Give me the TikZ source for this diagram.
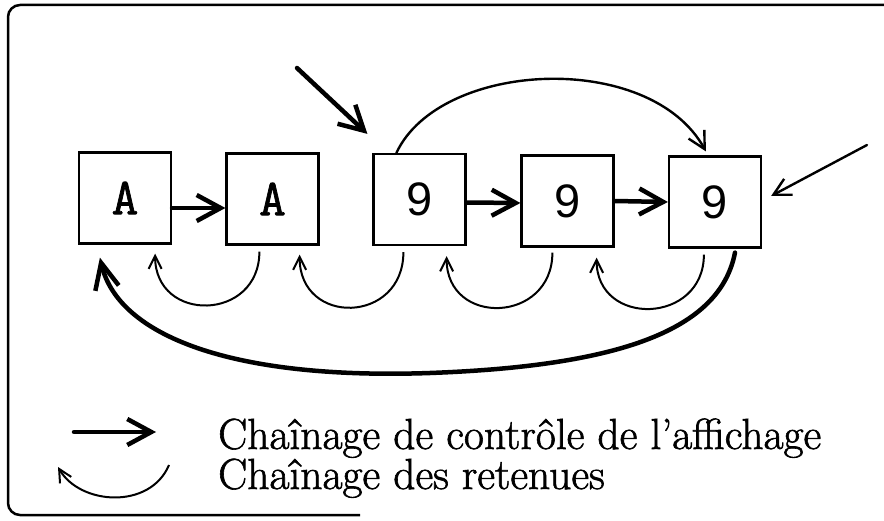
\documentclass[tikz,border=0pt]{standalone}
\usepackage{fontspec}
\setmainfont{Latin Modern Roman}[FakeBold=1.4]
\setmonofont{Latin Modern Mono}[FakeBold=1.4]
\newfontfamily\ninefont{Liberation Sans}
\usetikzlibrary{arrows.meta}
\begin{document}
\begin{tikzpicture}[x=1pt,y=-1pt,
  cell/.style={draw, line width=2.2pt, minimum width=92pt, minimum height=91pt, inner sep=0pt},
  ttlab/.style={font=\fontsize{52}{52}\selectfont\ttfamily},
  sflab/.style={font=\fontsize{47}{47}\selectfont\ninefont},
  ctrl/.style={line width=4.5pt, line cap=round, -{Straight Barb[length=24pt,width=26pt,line width=4.5pt]}},
  carry/.style={line width=2pt, -{Straight Barb[length=13pt,width=13pt,line width=2pt]}},
  thinarr/.style={line width=2.4pt, line cap=round, -{Straight Barb[length=17pt,width=18pt,line width=2.4pt]}},
  legtext/.style={font=\fontsize{43.5}{44}\selectfont, anchor=base west, inner sep=0pt},
  frame/.style={line width=2.5pt, rounded corners=12pt}]
\useasboundingbox (0,0) rectangle (884,521);
\clip (0,0) rectangle (884,521);
% frame
\draw[frame] (900,5) -- (8,5) -- (8,515) -- (360,515);
% cells
\node[cell, ttlab] (b1) at (125,198) {A};
\node[cell, ttlab] (b2) at (272.5,199) {A};
\node[cell, sflab] (b3) at (419.5,199.5) {9};
\node[cell, sflab] (b4) at (567.5,201) {9};
\node[cell, sflab] (b5) at (715,202) {9};
% control chain
\draw[ctrl] ([yshift=-10pt]b1.east) -- ([yshift=-9pt]b2.west);
\draw[ctrl] ([yshift=-3pt]b3.east) -- ([yshift=-2pt]b4.west);
\draw[ctrl] ([yshift=0pt]b4.east) -- ([yshift=0pt]b5.west);
% entry arrows
\coordinate (s1) at (297,68);
\draw[ctrl] (s1) -- ([xshift=-5pt,yshift=19pt]b3.north west);
\coordinate (s2) at (867,145);
\draw[thinarr] (s2) -- ([xshift=9pt,yshift=6pt]b5.east);
% top arc
\draw[thinarr] ([xshift=24pt]b3.north west) .. controls (440,60) and (650,50) .. ([xshift=38pt,yshift=4pt]b5.north west);
% carries
\draw[carry] ([xshift=34pt,yshift=-6pt]b2.south west) .. controls +(0,70) and +(0,70) .. ([xshift=-17pt,yshift=-9pt]b1.south east);
\draw[carry] ([xshift=31pt,yshift=-6pt]b3.south west) .. controls +(0,72) and +(0,72) .. ([xshift=-20pt,yshift=-9pt]b2.south east);
\draw[carry] ([xshift=32pt,yshift=-5pt]b4.south west) .. controls +(0,71) and +(0,71) .. ([xshift=-20pt,yshift=-10pt]b3.south east);
\draw[carry] ([xshift=36pt,yshift=-6pt]b5.south west) .. controls +(0,70) and +(0,70) .. ([xshift=-18pt,yshift=-10pt]b4.south east);
% big return arc
\draw[line width=4.5pt, line cap=round, -{Straight Barb[length=26pt,width=24pt,line width=4.5pt]}]
  ([xshift=20pt,yshift=-4pt]b5.south) .. controls (720,330) and (620,366) .. (430,373)
  .. controls (230,380) and (118,335) .. ([xshift=22pt,yshift=-13pt]b1.south west);
% legend
\coordinate (l1a) at (74,432);
\coordinate (l1b) at (156,432);
\draw[ctrl] (l1a) -- (l1b);
\coordinate (l2a) at (169,465);
\coordinate (l2b) at (58,467);
\draw[carry] (l2a) .. controls (150,510) and (80,505) .. (l2b);
\node[legtext] (t1) at (218,449) {Chaînage de contrôle de l'affichage};
\node[legtext] (t2) at (218,489) {Chaînage des retenues};
\end{tikzpicture}
\end{document}
